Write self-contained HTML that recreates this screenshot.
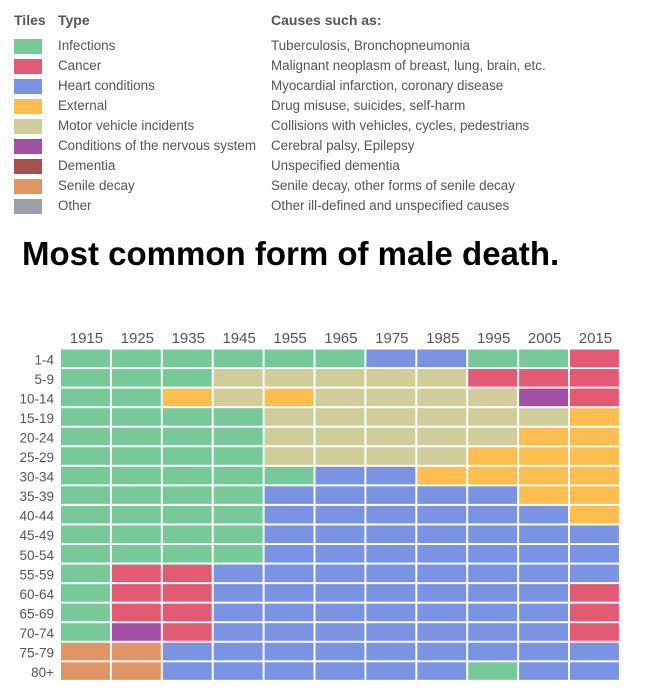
<!DOCTYPE html>
<html><head><meta charset="utf-8"><style>
body{margin:0;width:663px;height:690px;background:#fff;font-family:"Liberation Sans",sans-serif;overflow:hidden;position:relative}
.t{position:absolute;color:#555;font-size:13.4px;white-space:nowrap}
.h{font-weight:bold;font-size:14px;color:#555}
.sw{position:absolute;left:14px;width:28px;height:15px}
</style></head><body>
<div id="legend"></div>
<div class="t h" style="left:14px;top:12px">Tiles</div>
<div class="t h" style="left:58px;top:12px">Type</div>
<div class="t h" style="left:271px;top:12px">Causes such as:</div>
<div style="position:absolute;left:22px;top:235px;font-size:33px;font-weight:bold;color:#000;white-space:nowrap">Most common form of male death.</div>
<svg id="chart" width="663" height="690" style="position:absolute;left:0;top:0"></svg>
<script>
const types=["I","C","H","E","M","N","D","S","O"];
const typeNames=["Infections","Cancer","Heart conditions","External","Motor vehicle incidents","Conditions of the nervous system","Dementia","Senile decay","Other"];
const typeCauses=["Tuberculosis, Bronchopneumonia","Malignant neoplasm of breast, lung, brain, etc.","Myocardial infarction, coronary disease","Drug misuse, suicides, self-harm","Collisions with vehicles, cycles, pedestrians","Cerebral palsy, Epilepsy","Unspecified dementia","Senile decay, other forms of senile decay","Other ill-defined and unspecified causes"];
const typeColors=["#78c99a","#e35a74","#7a93e3","#fdbe4f","#d0cd9a","#a24fa5","#a85050","#e09565","#9aa0a8"];
const years=["1915","1925","1935","1945","1955","1965","1975","1985","1995","2005","2015"];
const ages=["1-4","5-9","10-14","15-19","20-24","25-29","30-34","35-39","40-44","45-49","50-54","55-59","60-64","65-69","70-74","75-79","80+"];
const cells=[
"IIIIIIHHIIC","IIIMMMMMCCC","IIEMEMMMMNC","IIIIMMMMMME","IIIIMMMMMEE","IIIIMMMMEEE",
"IIIIIHHEEEE","IIIIHHHHHEE","IIIIHHHHHHE","IIIIHHHHHHH","IIIIHHHHHHH","ICCHHHHHHHH",
"ICCHHHHHHHC","ICCHHHHHHHC","INCHHHHHHHC","SSHHHHHHHHH","SSHHHHHHIHH"];
const NS="http://www.w3.org/2000/svg";
const svg=document.getElementById('chart');
const x0=61,cw=50.9,y0=349.5,rh=19.55;
const xs=i=>x0+i*cw, ys=j=>y0+j*rh;
const lg=document.body;
types.forEach((t,i)=>{
 const y=38+i*20;
 const s=document.createElement('div');s.className='sw';s.style.top=(y+1)+'px';s.style.background=typeColors[i];
 
 lg.appendChild(s);
 const a=document.createElement('div');a.className='t';a.style.left='58px';a.style.top=y+'px';a.textContent=typeNames[i];
 
 lg.appendChild(a);
 const b=document.createElement('div');b.className='t';b.style.left='271px';b.style.top=y+'px';b.textContent=typeCauses[i];
 
 lg.appendChild(b);
});
years.forEach((yr,i)=>{
 const t=document.createElementNS(NS,'text');t.setAttribute('x',xs(i)+cw/2);t.setAttribute('y',343);
 t.setAttribute('text-anchor','middle');t.setAttribute('font-size','15');t.setAttribute('fill','#555');t.setAttribute('font-family','Liberation Sans, sans-serif');
 t.textContent=yr;
 
 svg.appendChild(t);
});
ages.forEach((ag,j)=>{
 const t=document.createElementNS(NS,'text');t.setAttribute('x',54);t.setAttribute('y',ys(j)+rh/2+5);
 t.setAttribute('text-anchor','end');t.setAttribute('font-size','13.5');t.setAttribute('fill','#555');t.setAttribute('font-family','Liberation Sans, sans-serif');
 t.textContent=ag;
 
 svg.appendChild(t);
 for(let i=0;i<years.length;i++){
  const r=document.createElementNS(NS,'rect');
  r.setAttribute('x',xs(i));r.setAttribute('y',ys(j));r.setAttribute('width',cw-2);r.setAttribute('height',rh-2);
  r.setAttribute('fill',typeColors[types.indexOf(cells[j][i])]);
  
  svg.appendChild(r);
 }
});
</script>
</body></html>
